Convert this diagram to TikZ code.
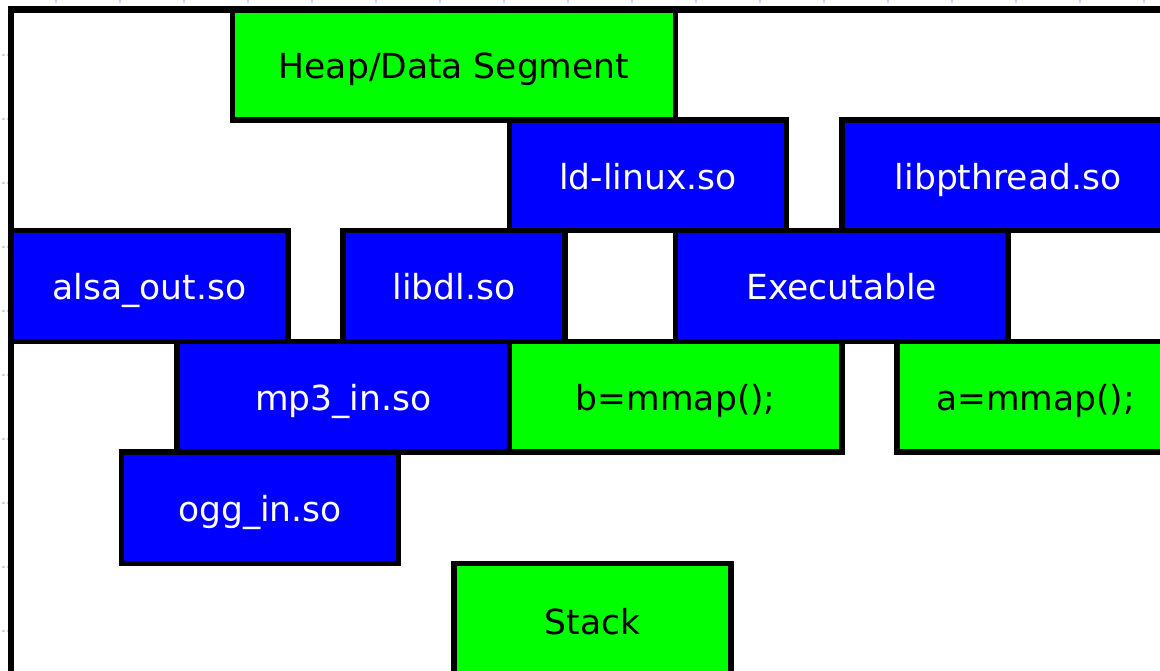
\documentclass[tikz,border=0pt]{standalone}
\usepackage{fontspec}
\setmainfont{DejaVu Sans}
\definecolor{segGreen}{RGB}{0,255,0}
\definecolor{segBlue}{RGB}{0,0,255}
\definecolor{tickBlue}{RGB}{200,212,255}
\begin{document}
\begin{tikzpicture}[x=1pt,y=-1pt,
  seg/.style={draw=black, line width=5.5pt, inner sep=0pt, rectangle,
    text height=28pt, text depth=0pt,
    font=\fontsize{34.5}{40}\selectfont},
  greenseg/.style={seg, fill=segGreen, text=black},
  blueseg/.style={seg, fill=segBlue, text=white},
  frameline/.style={draw=black, line width=6.5pt},
  tick/.style={draw=tickBlue, line width=1.6pt}]
  \useasboundingbox (0,0) rectangle (1160,671);
  \clip (0,0) rectangle (1160,671);
  \fill[white] (0,0) rectangle (1160,671);

  % ruler ticks along the top and left edges
  \foreach \k in {0,...,17} {
    \draw[tick] ({56+64*\k},0) -- ({56+64*\k},3);
  }
  \foreach \k in {0,...,9} {
    \draw[tick, dash pattern=on 3pt off 1.5pt] (2,{55+64*\k}) -- (8,{55+64*\k});
  }

  % address-space segments
  \node[greenseg, minimum width=443pt, minimum height=110.5pt] (heap) at (454,64.75) {Heap/Data Segment};
  \node[blueseg, minimum width=277pt, minimum height=110.5pt] (ldlinux) at (648,175.25) {ld-linux.so};
  \node[blueseg, minimum width=332pt, minimum height=110.5pt] (pthread) at (1008,175.25) {libpthread.so};
  \node[blueseg, minimum width=277pt, minimum height=111pt] (alsa) at (149.5,286) {alsa\_out.so};
  \node[blueseg, minimum width=222pt, minimum height=111pt] (libdl) at (454,286) {libdl.so};
  \node[blueseg, minimum width=332.5pt, minimum height=111pt] (exe) at (841.75,286) {Executable};
  \node[blueseg, minimum width=332.5pt, minimum height=110.5pt] (mpthree) at (343.25,396.75) {mp3\_in.so};
  \node[greenseg, minimum width=332.5pt, minimum height=110.5pt] (bmap) at (675.75,396.75) {b=mmap();};
  \node[greenseg, minimum width=277pt, minimum height=110.5pt] (amap) at (1035.5,396.75) {a=mmap();};
  \node[blueseg, minimum width=277pt, minimum height=111.5pt] (ogg) at (260,507.75) {ogg\_in.so};
  \node[greenseg, minimum width=277pt, minimum height=113pt] (stack) at (592.5,620) {Stack};

  % outer frame of the address space
  \draw[frameline] (11,680) -- (11,9.5) -- (1170,9.5);
\end{tikzpicture}
\end{document}
